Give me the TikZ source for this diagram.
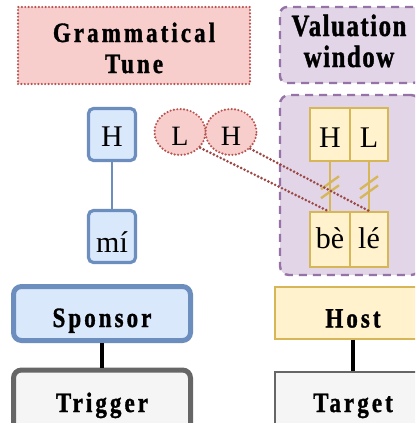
\documentclass[tikz,border=0pt]{standalone}
\usepackage{fontspec}
\setmainfont{Liberation Serif}
\newfontfamily\lblfont[LetterSpace=11,FakeStretch=0.82,BoldFeatures={FakeBold=1.2}]{Liberation Serif}
\newfontfamily\vwfont[LetterSpace=5,FakeStretch=0.8,BoldFeatures={FakeBold=1.2}]{Liberation Serif}
\newfontfamily\smfont{Liberation Serif}
\usetikzlibrary{shapes.geometric,calc}
\definecolor{pinkF}{HTML}{F8CECC}
\definecolor{pinkD}{HTML}{B85450}
\definecolor{lavF}{HTML}{E1D5E7}
\definecolor{lavD}{HTML}{9673A6}
\definecolor{bluF}{HTML}{DAE8FC}
\definecolor{bluD}{HTML}{6C8EBF}
\definecolor{yelF}{HTML}{FFF2CC}
\definecolor{yelD}{HTML}{D6B656}
\definecolor{gryF}{HTML}{F5F5F5}
\definecolor{gryD}{HTML}{666666}
\tikzset{
  dotb/.style={dash pattern=on 0pt off 3.4pt, line cap=round, line width=2.4},
  dotl/.style={dash pattern=on 0pt off 3.8pt, line cap=round, line width=2.9},
  dashb/.style={dash pattern=on 8pt off 6pt, line width=2.4},
  lbl/.style={font=\lblfont\bfseries\fontsize{28}{31}\selectfont, text depth=0, inner sep=0},
  gtbox/.style={draw=pinkD, fill=pinkF, dotb, inner sep=0},
  gttext/.style={font=\lblfont\bfseries\fontsize{28}{31}\selectfont, inner sep=0, anchor=base},
  vwbox/.style={draw=lavD, fill=lavF, dashb, rounded corners=7, inner sep=0},
  vwtext/.style={font=\vwfont\bfseries\fontsize{31}{31}\selectfont, inner sep=0, anchor=base},
  sm/.style={font=\smfont\fontsize{30}{32}\selectfont, text depth=0, inner sep=0},
  ell/.style={sm, ellipse, draw=pinkD, fill=pinkF, dotb,
     minimum width=51, minimum height=46, font=\smfont\fontsize{28}{30}\selectfont},
  bsmall/.style={sm, draw=bluD, fill=bluF, line width=3.2, rounded corners=5,
     minimum width=47, minimum height=52},
  ysmall/.style={sm, draw=yelD, fill=yelF, line width=2, minimum height=53},
  sponsor/.style={lbl, draw=bluD, fill=bluF, line width=5, rounded corners=8, minimum width=177, minimum height=54},
  trigger/.style={lbl, draw=gryD, fill=gryF, line width=5, rounded corners=8, minimum width=177, minimum height=62},
  host/.style={lbl, draw=yelD, fill=yelF, line width=1.6, minimum width=156, minimum height=52},
  target/.style={lbl, draw=gryD, fill=gryF, line width=1.6, minimum width=156, minimum height=62},
  red dots/.style={draw=pinkD!85!black, dotl},
  goldline/.style={draw=yelD, line width=2.3},
  blk/.style={draw=black, line width=4},
}
\begin{document}
\begin{tikzpicture}[x=1pt,y=-1pt]
\useasboundingbox (0,0) rectangle (415,423);
\clip (0,0) rectangle (415,423);
% headers
\node[gtbox, minimum width=232, minimum height=77] (gt) at (134,45.5) {};
\node[gttext] (gt1) at (134,42) {Grammatical};
\node[gttext] (gt2) at (134,73) {Tune};
\node[vwbox, minimum width=140, minimum height=76] (vw) at (350,45) {};
\node[vwtext] (vw1) at (349,36) {Valuation};
\node[vwtext] (vw2) at (349,67) {window};
% window
\node[draw=lavD, fill=lavF, dashb, rounded corners=9, minimum width=140, minimum height=180, inner sep=0] (win) at (350,185) {};
% left column
\node[bsmall, text height=23] (bH) at (112,134.5) {H};
\node[bsmall, text height=31] (mi) at (112,236.5) {mí};
\draw[draw=bluD, line width=2] (bH) -- (mi);
% ellipses
\node[ell, text height=26] (eL) at (180,132) {L};
\node[ell, text height=26] (eH) at (231,132) {H};
% yellow boxes
\node[ysmall, minimum width=40, text height=26] (yH) at (330,134) {H};
\node[ysmall, minimum width=38, text height=26] (yL) at (369,134) {L};
\node[ysmall, minimum width=40, minimum height=55, text height=18] (be) at (330,239.5) {bè};
\node[ysmall, minimum width=38, minimum height=55, text height=18] (le) at (369,239.5) {lé};
\draw[goldline] (yH) -- (be);
\draw[goldline] (yL) -- (le);
\foreach \a/\b in {yH/be, yL/le}{
  \coordinate (m) at ($(\a.south)!0.5!(\b.north)$);
  \draw[goldline] ($(m)+(-9,3)$) -- ($(m)+(9,-10)$);
  \draw[goldline] ($(m)+(-9,12)$) -- ($(m)+(9,-1)$);
}
% red dotted links
\draw[red dots] (eL.-38) -- ($(be.north)+(-2,0)$);
\draw[red dots] (eH.-41) -- (le.north);
% bottom
\node[sponsor, text height=27] (sp) at (102,313.5) {Sponsor};
\node[trigger, text height=22] (tr) at (102,401) {Trigger};
\draw[blk] (sp) -- (tr);
\node[host, text height=29] (ho) at (353,313) {Host};
\node[target, text height=18] (ta) at (353,403) {Target};
\draw[blk] (ho) -- (ta);
\end{tikzpicture}
\end{document}
